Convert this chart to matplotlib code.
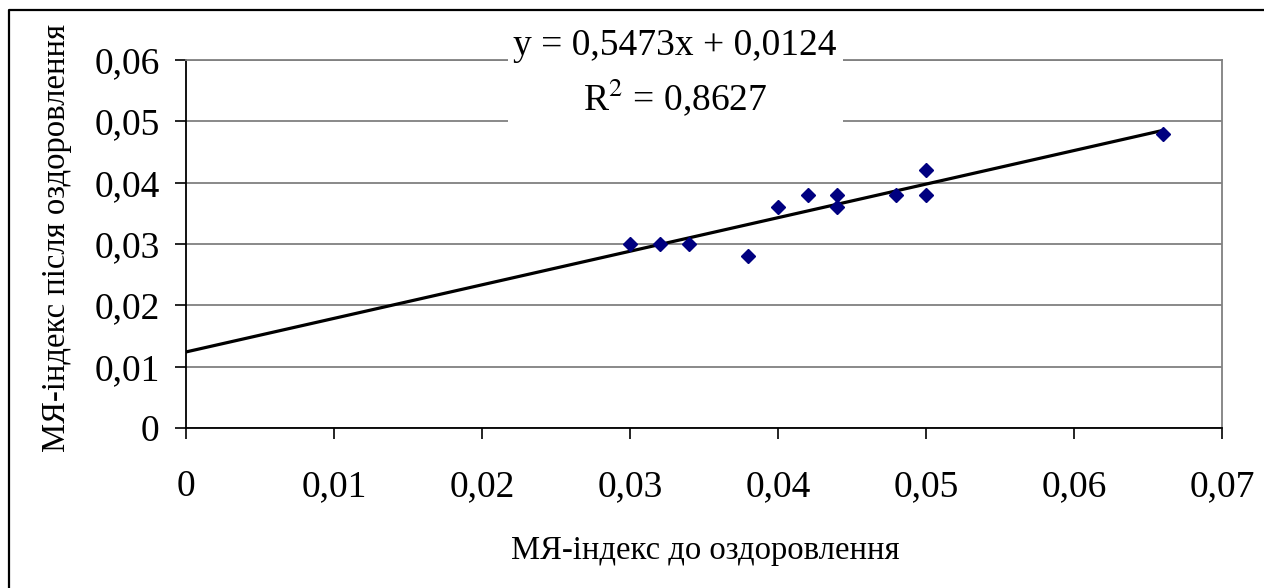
import matplotlib
matplotlib.use("Agg")
import matplotlib.pyplot as plt
from matplotlib.ticker import FuncFormatter, MultipleLocator
from matplotlib.patches import Rectangle
from matplotlib.lines import Line2D
import numpy as np

# MЯ-index before (x) and after (y) recovery
before = [0.030, 0.032, 0.034, 0.038, 0.040, 0.042, 0.044, 0.044, 0.048, 0.050, 0.050, 0.066]
after = [0.030, 0.030, 0.030, 0.028, 0.036, 0.038, 0.038, 0.036, 0.038, 0.042, 0.038, 0.048]

# linear trend as reported
slope = 0.5473
intercept = 0.0124
r2 = 0.8627

plt.rcParams['font.family'] = ['Liberation Serif', 'DejaVu Serif']

W, H = 1264, 588
fig = plt.figure(figsize=(W / 100, H / 100), dpi=100)
ax = fig.add_axes([186 / W, 1 - 428 / H, (1222 - 186) / W, (428 - 60) / H])

ax.set_xlim(0, 0.07)
ax.set_ylim(0, 0.06)
ax.xaxis.set_major_locator(MultipleLocator(0.01))
ax.yaxis.set_major_locator(MultipleLocator(0.01))


def comma(v, pos):
    if abs(v) < 1e-12:
        return "0"
    return "{:.2f}".format(v).replace(".", ",")


ax.xaxis.set_major_formatter(FuncFormatter(comma))
ax.yaxis.set_major_formatter(FuncFormatter(comma))

ax.yaxis.grid(True, color="#808080", lw=1.3)
ax.set_axisbelow(True)

for s in ["left", "bottom"]:
    ax.spines[s].set_color("black")
    ax.spines[s].set_linewidth(1.3)
for s in ["top", "right"]:
    ax.spines[s].set_color("#808080")
    ax.spines[s].set_linewidth(1.3)

ax.tick_params(axis="both", direction="out", length=8, width=1.2, labelsize=27)
ax.tick_params(axis="y", pad=11)
ax.tick_params(axis="x", pad=22)

xt = np.array([0, max(before)])
ax.plot(xt, slope * xt + intercept, color="black", lw=2.3, zorder=3)
ax.plot(before, after, "D", color="#000080", markersize=7.5, zorder=4, clip_on=False)

# white box behind the equation
fig.patches.append(Rectangle((508 / W, 1 - 127 / H), (843 - 508) / W, (127 - 8) / H,
                             transform=fig.transFigure, facecolor="white",
                             edgecolor="none", zorder=1))
fig.text(675 / W, 1 - 46 / H, "y = 0,5473x + 0,0124", ha="center", va="center",
         fontsize=27, zorder=2)
fig.text(675 / W, 1 - 98 / H, "R$^2$ = 0,8627", ha="center", va="center",
         fontsize=27, zorder=2, math_fontfamily="stix")

fig.text(705 / W, 1 - 551 / H, "МЯ-індекс до оздоровлення", ha="center", va="center",
         fontsize=23.5)
fig.text(57 / W, 1 - 238 / H, "МЯ-індекс після оздоровлення", ha="center", va="center",
         rotation=90, fontsize=23.5)

# outer frame
fig.lines.append(Line2D([9 / W, 9 / W, 1.0], [0.0, 1 - 10 / H, 1 - 10 / H],
                        transform=fig.transFigure, color="black", lw=1.6, zorder=5))

fig.savefig("out.png", dpi=100)
